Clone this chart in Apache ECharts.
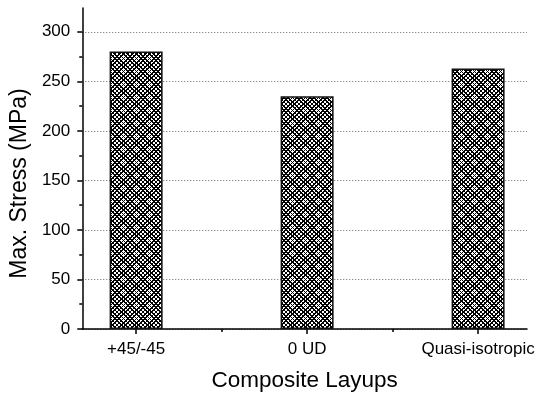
<!DOCTYPE html>
<html>
<head>
<meta charset="utf-8">
<script src="https://cdn.jsdelivr.net/npm/echarts@6/dist/echarts.min.js"></script>
<style>
  html, body { margin: 0; padding: 0; background: #fff; }
  #chart { width: 543px; height: 397px; }
</style>
</head>
<body>
<div id="chart"></div>
<script>
// data
var layups = ['+45/-45', '0 UD', 'Quasi-isotropic'];
var maxStress = [280, 235, 263];
var categoryPos = [1, 2, 3];
var separatorPos = [1.5, 2.5];
var yTicks = [0, 50, 100, 150, 200, 250, 300];
var yMinorTicks = [25, 75, 125, 175, 225, 275];

// crisp crosshatch fill, 3 periods in a 13px tile
function hatch() {
  var s = 13, p = s / 3, half = 0.95;
  var c = document.createElement('canvas');
  c.width = s; c.height = s;
  var ctx = c.getContext('2d');
  ctx.fillStyle = '#fff';
  ctx.fillRect(0, 0, s, s);
  ctx.fillStyle = '#000';
  function near(v) {
    var u = ((v % p) + p) % p;
    return Math.min(u, p - u) < half;
  }
  for (var y = 0; y < s; y++) {
    for (var x = 0; x < s; x++) {
      if (near(x + y + 1) || near(x - y)) ctx.fillRect(x, y, 1, 1);
    }
  }
  return c;
}

var chart = echarts.init(document.getElementById('chart'));
var font = 'Liberation Sans, Arial, sans-serif';

chart.setOption({
  animation: false,
  grid: { left: 81, right: 16, top: 8, bottom: 64 },
  xAxis: [{
    type: 'value',
    min: 0.685,
    max: 3.286,
    name: 'Composite Layups',
    nameLocation: 'middle',
    nameGap: 40,
    nameTextStyle: { fontFamily: font, fontSize: 22.5, color: '#000' },
    axisLine: { lineStyle: { color: '#000', width: 1.5 } },
    axisTick: { customValues: categoryPos, length: 5, lineStyle: { color: '#000', width: 1.5 } },
    axisLabel: {
      customValues: categoryPos,
      margin: 12,
      fontFamily: font, fontSize: 17, color: '#000',
      formatter: function (v) { return layups[categoryPos.indexOf(v)] || ''; }
    },
    splitLine: { show: false }
  }, {
    type: 'value',
    min: 0.685,
    max: 3.286,
    position: 'bottom',
    axisLine: { show: false },
    axisTick: { customValues: separatorPos, length: 3, lineStyle: { color: '#000', width: 1.5 } },
    axisLabel: { show: false },
    splitLine: { show: false }
  }],
  yAxis: [{
    type: 'value',
    min: 0,
    max: 324,
    name: 'Max. Stress (MPa)',
    nameLocation: 'middle',
    nameGap: 48,
    nameTextStyle: { fontFamily: font, fontSize: 23, color: '#000', padding: [0, 30, 0, 0] },
    axisLine: { show: true, lineStyle: { color: '#000', width: 1.5 } },
    axisTick: { show: true, customValues: yTicks, length: 5, lineStyle: { color: '#000', width: 1.5 } },
    axisLabel: { customValues: yTicks, margin: 12, fontFamily: font, fontSize: 17, color: '#000' },
    splitLine: { show: true, lineStyle: { color: '#666', type: [1, 2], width: 1 } }
  }, {
    type: 'value',
    min: 0,
    max: 324,
    position: 'left',
    axisLine: { show: false },
    axisTick: { show: true, customValues: yMinorTicks, length: 3, lineStyle: { color: '#000', width: 1.5 } },
    axisLabel: { show: false },
    splitLine: { show: false }
  }],
  series: [{
    type: 'bar',
    barWidth: 53,
    data: categoryPos.map(function (x, i) { return [x, maxStress[i]]; }),
    itemStyle: {
      color: { image: hatch(), repeat: 'repeat' },
      borderColor: '#111',
      borderWidth: 1.5
    }
  }]
});
</script>
</body>
</html>
